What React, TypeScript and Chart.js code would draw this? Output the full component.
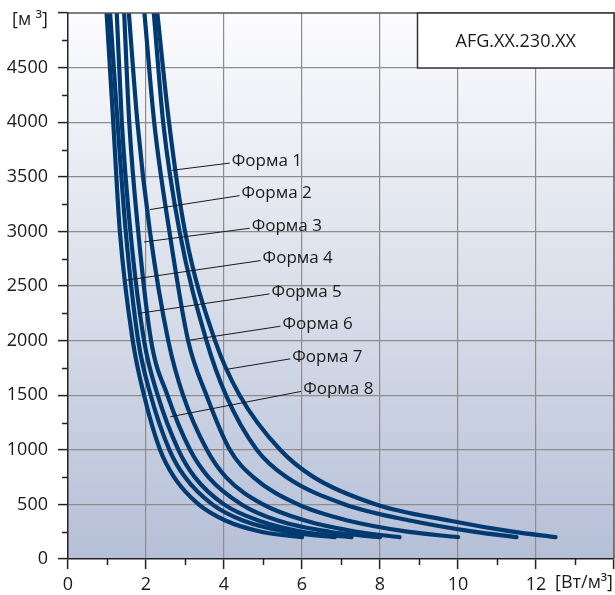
import React, { useEffect, useRef } from 'react';
import { Chart, registerables } from 'chart.js';

Chart.register(...registerables);

// Air flow levels [м³] at which each curve's power [Вт/м³] was read
const flowLevels = [5000, 4000, 3000, 2000, 1500, 1000, 750, 500, 350, 250, 200];

// Power values (x) for each curve, same order as flowLevels
const forma1 = [2.2, 2.44, 2.86, 3.55, 4.05, 4.84, 5.6, 7.1, 8.8, 10.4, 11.5];
const forma2 = [1.56, 1.78, 2.1, 2.57, 2.95, 3.56, 4.05, 5.0, 6.1, 7.4, 8.5];
const forma3 = [1.44, 1.57, 1.8, 2.13, 2.55, 3.13, 3.6, 4.45, 5.4, 6.7, 8.0];
const forma4 = [0.99, 1.16, 1.33, 1.66, 1.95, 2.36, 2.72, 3.35, 4.05, 4.95, 6.0];
const forma5 = [1.08, 1.27, 1.48, 1.8, 2.12, 2.6, 3.0, 3.7, 4.5, 5.6, 6.84];
const forma6 = [1.96, 2.21, 2.6, 3.08, 3.55, 4.15, 4.75, 5.9, 7.2, 8.7, 10.0];
const forma7 = [2.29, 2.59, 3.0, 3.77, 4.4, 5.44, 6.3, 7.9, 9.8, 11.4, 12.5];
const forma8 = [1.25, 1.38, 1.6, 1.95, 2.3, 2.83, 3.25, 4.0, 4.9, 6.0, 7.27];

const curveNames = ['Форма 1', 'Форма 2', 'Форма 3', 'Форма 4', 'Форма 5', 'Форма 6', 'Форма 7', 'Форма 8'];
const curveValues = [forma1, forma2, forma3, forma4, forma5, forma6, forma7, forma8];

// Label annotations (data coordinates): text anchor and leader start point on curve
const labelX = [4.2, 4.45, 4.71, 4.99, 5.22, 5.5, 5.75, 6.03];
const labelY = [3644, 3346, 3047, 2751, 2446, 2150, 1851, 1553];
const leaderX = [2.66, 2.1, 1.95, 1.49, 1.79, 3.11, 4.05, 2.62];
const leaderY = [3559, 3200, 2903, 2553, 2248, 2004, 1736, 1302];

const xTickLabels = ['0', '2', '4', '6', '8', '10', '12'];
const yTickLabels = ['0', '500', '1000', '1500', '2000', '2500', '3000', '3500', '4000', '4500'];
const modelName = 'AFG.XX.230.XX';
const xUnit = '[Вт/м³]';
const yUnit = '[м ³]';

const FONT = '"Open Sans", "DejaVu Sans", sans-serif';
const CURVE_COLOR = '#003a70';

const decorPlugin = {
  id: 'decor',
  beforeDraw(chart: any) {
    const { ctx, chartArea: a } = chart;
    const g = ctx.createLinearGradient(0, a.top, 0, a.bottom);
    g.addColorStop(0, '#fcfcfe');
    g.addColorStop(0.5, '#dadfea');
    g.addColorStop(1, '#b5bfd7');
    ctx.save();
    ctx.fillStyle = g;
    ctx.fillRect(a.left, a.top, a.right - a.left, a.bottom - a.top);
    ctx.restore();
  },
  afterDraw(chart: any) {
    const { ctx, chartArea: a } = chart;
    const xs = chart.scales.x;
    const ys = chart.scales.y;
    ctx.save();
    // top and right frame
    ctx.strokeStyle = '#555';
    ctx.lineWidth = 1.5;
    ctx.beginPath();
    ctx.moveTo(a.left, a.top);
    ctx.lineTo(a.right, a.top);
    ctx.lineTo(a.right, a.bottom);
    ctx.stroke();

    // minor ticks
    ctx.strokeStyle = '#222';
    ctx.lineWidth = 1.5;
    ctx.beginPath();
    for (let v = 250; v < 5000; v += 500) {
      const py = Math.round(ys.getPixelForValue(v)) + 0.5;
      ctx.moveTo(a.left - 6, py);
      ctx.lineTo(a.left, py);
    }
    for (let v = 1; v < 14; v += 2) {
      const px = Math.round(xs.getPixelForValue(v)) + 0.5;
      ctx.moveTo(px, a.bottom);
      ctx.lineTo(px, a.bottom + 6);
    }
    ctx.stroke();

    // leader lines and labels
    ctx.strokeStyle = '#1a1a1a';
    ctx.lineWidth = 1;
    ctx.fillStyle = '#1a1a1a';
    ctx.font = '17px ' + FONT;
    ctx.textAlign = 'left';
    ctx.textBaseline = 'middle';
    for (let i = 0; i < curveNames.length; i++) {
      const sx = xs.getPixelForValue(leaderX[i]);
      const sy = ys.getPixelForValue(leaderY[i]);
      const tx = xs.getPixelForValue(labelX[i]);
      const ty = ys.getPixelForValue(labelY[i]);
      ctx.beginPath();
      ctx.moveTo(sx, sy);
      ctx.lineTo(tx - 2, ty + 2);
      ctx.stroke();
      ctx.fillText(curveNames[i], tx, ty);
    }

    // model box
    const bx = Math.round(xs.getPixelForValue(8.96)) + 0.5;
    const by = a.top;
    const bw = a.right - bx;
    const bh = 55;
    ctx.fillStyle = '#ffffff';
    ctx.fillRect(bx, by, bw, bh);
    ctx.strokeStyle = '#333';
    ctx.lineWidth = 1.5;
    ctx.strokeRect(bx, by, bw, bh);
    ctx.fillStyle = '#1a1a1a';
    ctx.font = '18px ' + FONT;
    ctx.textAlign = 'center';
    ctx.fillText(modelName, bx + bw / 2, by + bh / 2 + 1);

    // axis units
    ctx.font = '18px ' + FONT;
    ctx.textAlign = 'right';
    ctx.fillText(yUnit, a.left - 20, a.top + 7);
    ctx.fillText(xUnit, a.right - 1, a.bottom + 24);
    ctx.restore();
  },
};

export default function App() {
  const ref = useRef<HTMLCanvasElement | null>(null);
  useEffect(() => {
    if (!ref.current) return;
    const datasets = curveValues.map((vals, i) => ({
      label: curveNames[i],
      data: vals.map((x, j) => ({ x, y: flowLevels[j] })).sort((p, q) => p.x - q.x),
      borderColor: CURVE_COLOR,
      backgroundColor: CURVE_COLOR,
      borderWidth: 4.2,
      pointRadius: 0,
      cubicInterpolationMode: 'monotone' as const,
      fill: false,
      borderCapStyle: 'round' as const,
    }));
    const chart = new Chart(ref.current, {
      type: 'line',
      data: { datasets },
      options: {
        animation: false,
        responsive: false,
        layout: { padding: { top: 13, right: 1, left: 0, bottom: 0 } },
        plugins: { legend: { display: false }, tooltip: { enabled: false } },
        scales: {
          x: {
            type: 'linear',
            min: 0,
            max: 14,
            afterFit: (s: any) => {
              s.height = 36;
              s.paddingLeft = 0;
              s.paddingRight = 0;
            },
            ticks: {
              stepSize: 1,
              autoSkip: false,
              maxRotation: 0,
              padding: 5,
              color: '#1a1a1a',
              font: { family: FONT, size: 18 },
              callback: (v: any) => {
                const idx = xTickLabels.indexOf(String(v));
                return idx >= 0 ? xTickLabels[idx] : '';
              },
            },
            grid: {
              color: (c: any) => (c.tick && c.tick.value % 2 === 0 && c.tick.value > 0 && c.tick.value < 14 ? '#8c8c8c' : 'rgba(0,0,0,0)'),
              lineWidth: 1.2,
              tickLength: 10,
              tickColor: (c: any) => (c.tick && c.tick.value % 2 === 0 ? '#222' : 'rgba(0,0,0,0)'),
              tickWidth: 1.5,
            },
            border: { color: '#222', width: 1.5 },
          },
          y: {
            type: 'linear',
            min: 0,
            max: 5000,
            afterFit: (s: any) => {
              s.width = 68;
              s.paddingTop = 0;
              s.paddingBottom = 0;
            },
            ticks: {
              stepSize: 250,
              autoSkip: false,
              padding: 10,
              color: '#1a1a1a',
              font: { family: FONT, size: 18 },
              callback: (v: any) => {
                const idx = yTickLabels.indexOf(String(v));
                return idx >= 0 ? yTickLabels[idx] : '';
              },
            },
            grid: {
              color: (c: any) => (c.tick && c.tick.value % 500 === 0 && c.tick.value > 0 && c.tick.value < 5000 ? '#8c8c8c' : 'rgba(0,0,0,0)'),
              lineWidth: 1.2,
              tickLength: 10,
              tickColor: (c: any) => (c.tick && c.tick.value % 500 === 0 ? '#222' : 'rgba(0,0,0,0)'),
              tickWidth: 1.5,
            },
            border: { color: '#222', width: 1.5 },
          },
        },
      },
      plugins: [decorPlugin],
    });
    return () => chart.destroy();
  }, []);
  return (
    <div style={{ position: 'absolute', left: 0, top: 0, width: 615, height: 595, background: '#ffffff' }}>
      <canvas ref={ref} width={615} height={595} style={{ display: 'block' }} />
    </div>
  );
}
